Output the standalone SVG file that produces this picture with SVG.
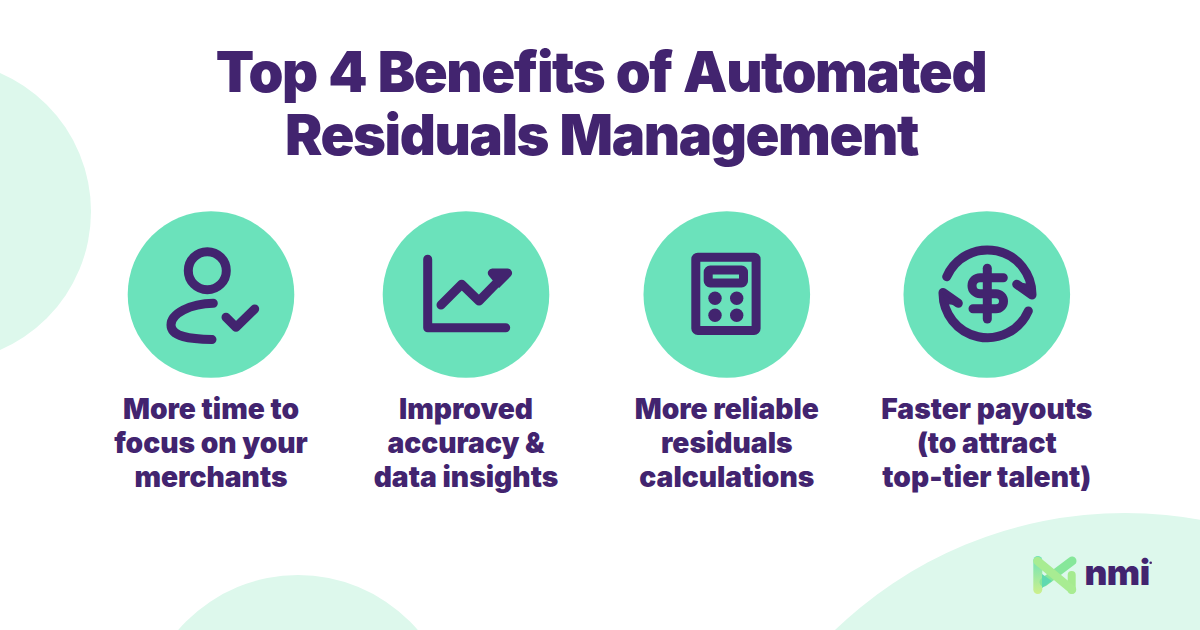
<svg xmlns="http://www.w3.org/2000/svg" width="1200" height="630" viewBox="0 0 1200 630">
<style>
.blob{fill:#DDF8EC}
.disc{fill:#6BE2BB}
.ic{fill:none;stroke:#42246F;stroke-width:9;stroke-linecap:round;stroke-linejoin:round}
.fillp{fill:#42246F}
text{font-family:"Inter","Liberation Sans",sans-serif;font-weight:900;fill:#42246F;text-anchor:middle}
.title{font-size:56px;letter-spacing:-1.42px;word-spacing:1.8px}
.label{font-size:28.2px;letter-spacing:0px}
</style>
<defs>
<linearGradient id="lg1" x1="0" y1="0" x2="0" y2="1"><stop offset="0" stop-color="#6BE2BB"/><stop offset="1" stop-color="#CDF08C"/></linearGradient>
</defs>
<rect width="1200" height="630" fill="#FFFFFF"/>
<circle class="blob" cx="-60" cy="211.5" r="151"/>
<circle class="blob" cx="298" cy="733" r="158"/>
<circle class="blob" cx="1125" cy="931" r="418"/>
<g id="title">
<text class="title" x="601" y="92">Top 4 Benefits of Automated</text>
<text class="title" x="601.500" y="155">Residuals Management</text>
</g>
<g id="node-1">
<circle class="disc" cx="211" cy="294.5" r="83.3"/>
<circle class="ic" cx="207.3" cy="270.7" r="19"/>
<path class="ic" d="M213.3 303.3C190 303.5 171 314 171 325C171 337 190 339 212 339.5"/>
<path class="ic" d="M226 317.3L236 327.3L254.7 309"/>
<text class="label" x="211" y="419">More time to</text>
<text class="label" x="211" y="453">focus on your</text>
<text class="label" x="211" y="487">merchants</text>
</g>
<g id="node-2">
<circle class="disc" cx="466" cy="294.5" r="83.3"/>
<path class="ic" d="M427.7 259.3V327.7H505.7"/>
<path class="ic" d="M441 305L461.7 284.3L479 301L505 274.3"/>
<path class="fillp" d="M492.7 268.5H507.5a4.5 4.5 0 0 1 3.200 7.700L499 288L489 276A4.500 4.500 0 0 1 492.700 268.500Z"/>
<text class="label" x="466" y="419">Improved</text>
<text class="label" x="466" y="453">accuracy &amp;</text>
<text class="label" x="466" y="487">data insights</text>
</g>
<g id="node-3">
<circle class="disc" cx="726.8" cy="294.5" r="83.3"/>
<rect class="ic" x="695.8" y="257.2" width="60.300" height="73.300" rx="2"/>
<rect class="ic" x="708.2" y="270" width="35.300" height="13" rx="2"/>
<circle class="fillp" cx="715" cy="298.300" r="6.700"/>
<circle class="fillp" cx="736.700" cy="298.300" r="6.700"/>
<circle class="fillp" cx="715" cy="315.300" r="6.700"/>
<circle class="fillp" cx="736.700" cy="315.300" r="6.700"/>
<text class="label" x="726.800" y="419">More reliable</text>
<text class="label" x="726.800" y="453">residuals</text>
<text class="label" x="726.800" y="487">calculations</text>
</g>
<g id="node-4">
<circle class="disc" cx="986.800" cy="294.5" r="83.3"/>
<path class="ic" d="M946.700 276.700A44.500 44.500 0 0 1 1032 295L1016.700 284.300"/>
<path class="fillp" d="M1016 282L1030 284L1033 296Z"/>
<path class="ic" d="M1028.300 311A44.500 44.500 0 0 1 943 292.500L958.300 303.300"/>
<path class="fillp" d="M959 305.500L946 304L942 292Z"/>
<path class="ic" d="M987.300 268.300V319"/>
<path class="ic" d="M1003.300 277.700H980a8 8 0 0 0 0 16H996a7.500 7.500 0 0 1 0 15H973"/>
<text class="label" x="986.800" y="419">Faster payouts</text>
<text class="label" x="986.800" y="453">(to attract</text>
<text class="label" x="986.800" y="487">top-tier talent)</text>
</g>
<g id="logo">
<rect x="1033.300" y="556" width="9" height="38" rx="4.500" fill="url(#lg1)"/>
<rect x="1067.700" y="571" width="8" height="23" rx="4" fill="#A5EB8F"/>
<path d="M1072 561L1044 582" stroke="#86E79A" stroke-width="9" stroke-linecap="round" fill="none"/>
<path d="M1042 574L1052 581L1042 588Z" fill="#5FD9B0"/>
<path d="M1037.500 561L1072 589.500" stroke="#A8EC92" stroke-width="8.500" stroke-linecap="round" fill="none"/>
<text x="1117" y="584.500" style="font-size:35.300px;font-weight:900;letter-spacing:-0.5px">nmi</text>
<circle class="fillp" cx="1150.700" cy="562.700" r="1.300"/>
</g>
</svg>
